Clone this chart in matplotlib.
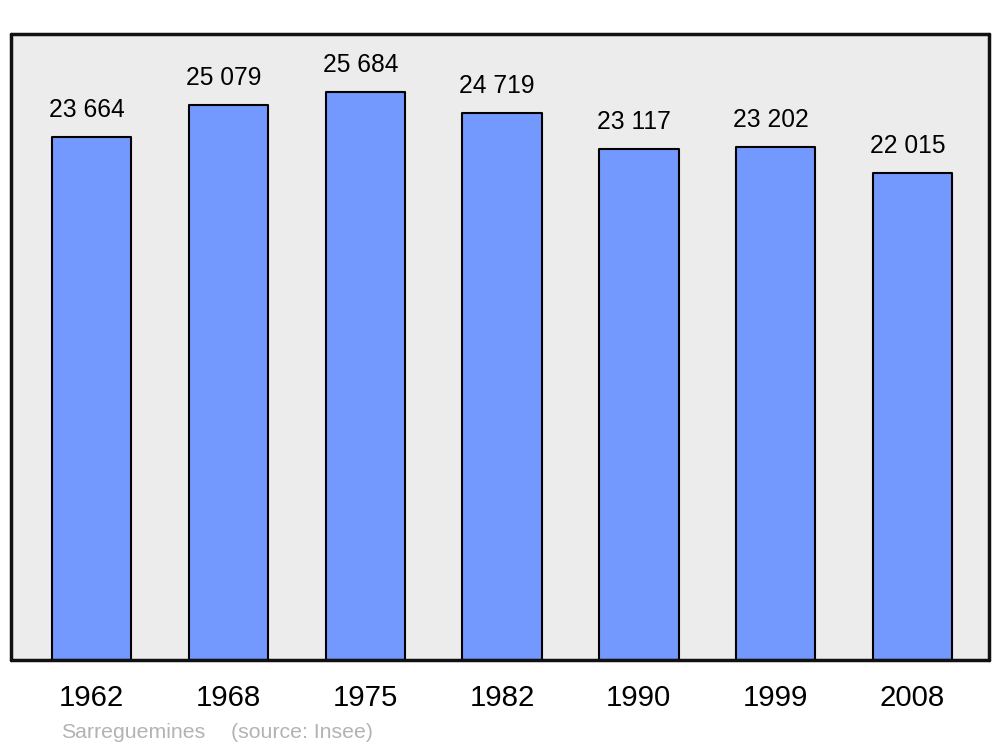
import matplotlib
matplotlib.use("Agg")
import matplotlib.pyplot as plt

years = ["1962", "1968", "1975", "1982", "1990", "1999", "2008"]
population = [23664, 25079, 25684, 24719, 23117, 23202, 22015]
labels = ["23 664", "25 079", "25 684", "24 719", "23 117", "23 202", "22 015"]

plt.rcParams["font.family"] = ["Liberation Sans", "DejaVu Sans"]

fig = plt.figure(figsize=(10, 7.47), dpi=100)
ax = fig.add_axes([0.011, 0.1165, 0.978, 0.838])
ax.set_facecolor("#ececec")

x = list(range(len(years)))
ax.bar(x, population, width=0.58, color="#7399ff", edgecolor="black",
       linewidth=1.5, joinstyle="round", zorder=2)

for xi, v, lab in zip(x, population, labels):
    ax.annotate(lab, (xi, v), xytext=(-5, 15), textcoords="offset pixels",
                ha="center", va="bottom", fontsize=17.7)

ax.set_xlim(-0.59, 6.56)
ax.set_ylim(0, 28300)
ax.set_xticks(x)
ax.set_xticklabels(years, fontsize=21.2)
ax.tick_params(axis="x", length=0, pad=17)
ax.set_yticks([])
for s in ax.spines.values():
    s.set_linewidth(2.5)
    s.set_color("#111111")
    s.set_capstyle("round")

fig.text(0.061, 0.012, "Sarreguemines", color="#b3b3b3", fontsize=15.3)
fig.text(0.231, 0.012, "(source: Insee)", color="#b3b3b3", fontsize=15.3)

fig.savefig("out.png", dpi=100)
